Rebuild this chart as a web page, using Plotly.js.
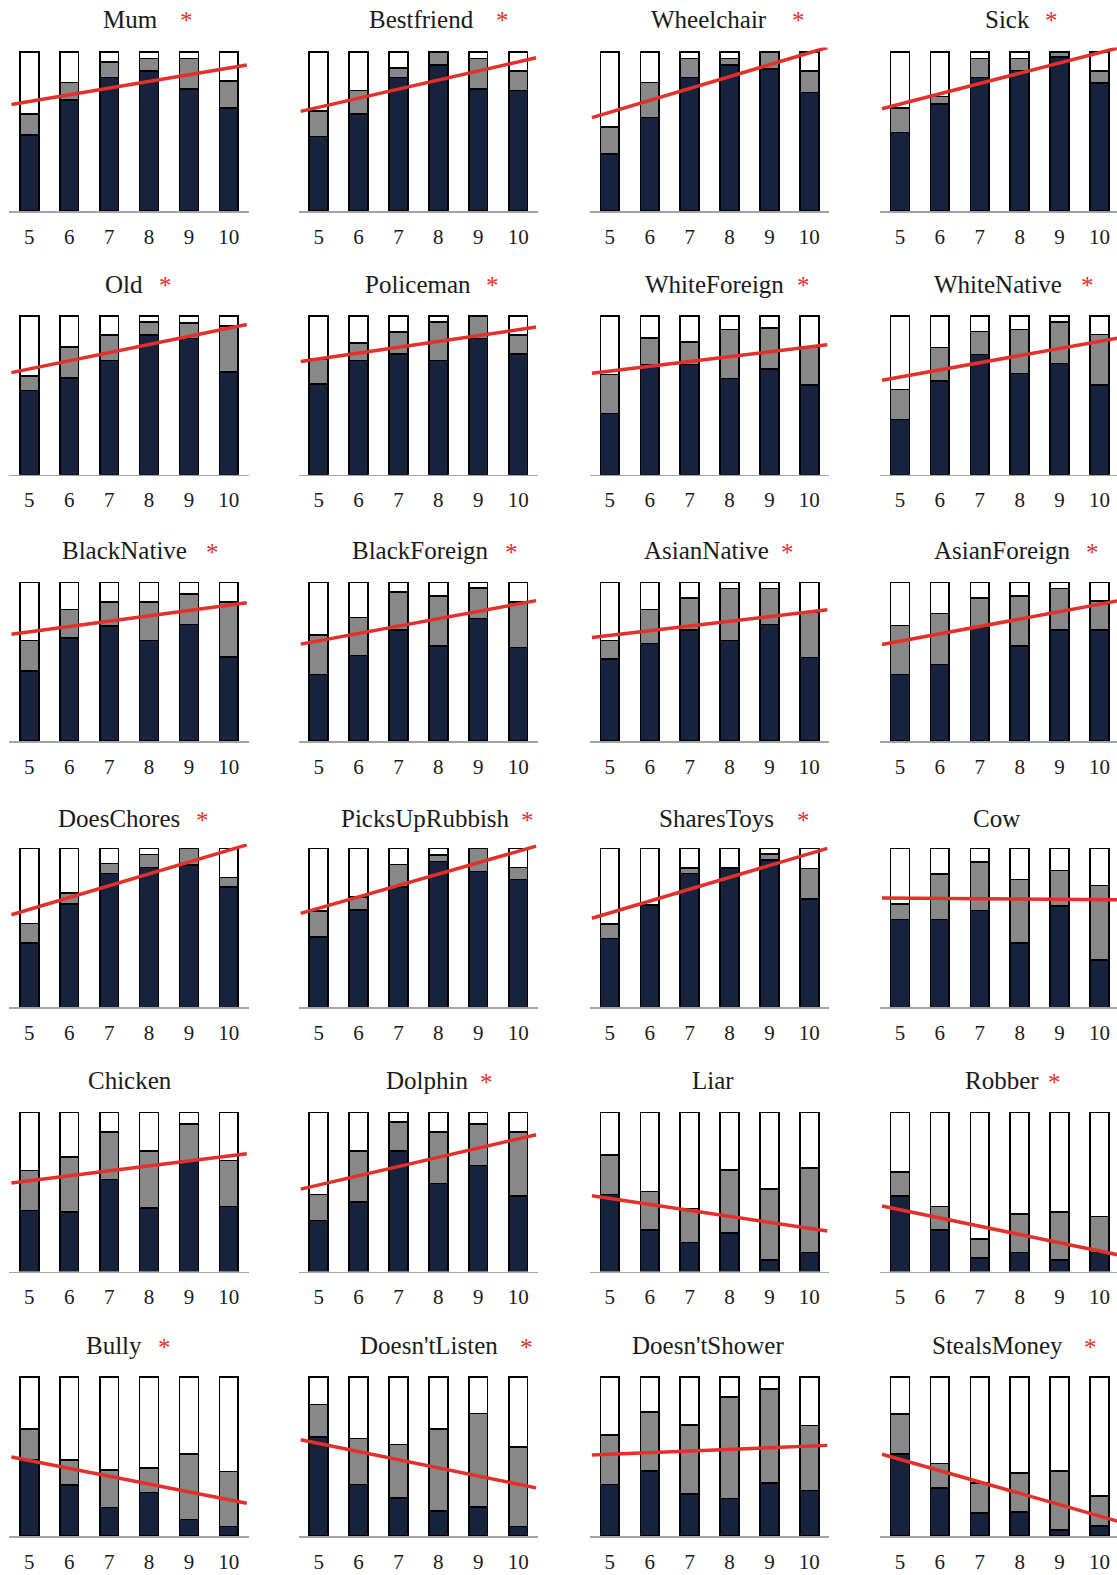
<!DOCTYPE html>
<html>
<head>
<meta charset="utf-8">
<script src="https://cdn.plot.ly/plotly-3.0.1.min.js"></script>
<style>html,body{margin:0;padding:0;background:#fff;}#chart{width:1117px;height:1575px;}</style>
</head>
<body>
<div id="chart"></div>
<script>
// ---------- DATA ----------
const ages = [5, 6, 7, 8, 9, 10];
const tickLabels = ["5", "6", "7", "8", "9", "10"];
const categories = ["Mum", "Bestfriend", "Wheelchair", "Sick",
  "Old", "Policeman", "WhiteForeign", "WhiteNative",
  "BlackNative", "BlackForeign", "AsianNative", "AsianForeign",
  "DoesChores", "PicksUpRubbish", "SharesToys", "Cow",
  "Chicken", "Dolphin", "Liar", "Robber",
  "Bully", "Doesn'tListen", "Doesn'tShower", "StealsMoney"];
const significant = [true, true, true, true,
  true, true, true, true,
  true, true, true, true,
  true, true, true, false,
  false, true, false, true,
  true, true, false, true];
// share of children in the darkest (navy) category, per age
const navyShare = [
  [.48, .70, .84, .88, .77, .65],
  [.47, .61, .84, .92, .77, .76],
  [.36, .59, .84, .92, .895, .746],
  [.495, .675, .84, .885, .97, .807],
  [.53, .61, .72, .88, .857, .647],
  [.57, .72, .76, .72, .857, .76],
  [.385, .695, .695, .605, .664, .563],
  [.347, .59, .758, .637, .70, .563],
  [.443, .65, .725, .636, .735, .53],
  [.42, .54, .70, .60, .773, .59],
  [.517, .616, .70, .636, .735, .527],
  [.42, .483, .72, .60, .70, .70],
  [.406, .653, .844, .88, .895, .758],
  [.444, .613, .758, .918, .855, .806],
  [.433, .643, .842, .874, .93, .683],
  [.553, .553, .611, .405, .637, .30],
  [.385, .375, .579, .40, .695, .41],
  [.322, .436, .758, .554, .667, .474],
  [.484, .263, .183, .242, .074, .12],
  [.474, .263, .084, .12, .074, .12],
  [.479, .321, .179, .275, .105, .059],
  [.625, .325, .241, .157, .182, .059],
  [.325, .409, .266, .237, .335, .287],
  [.518, .304, .143, .153, .036, .063]
];
// share in the middle (gray) category, per age
const grayShare = [
  [.13, .11, .10, .08, .19, .17],
  [.16, .15, .06, .08, .19, .12],
  [.17, .22, .12, .04, .105, .134],
  [.155, .045, .12, .075, .03, .073],
  [.09, .195, .16, .08, .10, .29],
  [.16, .11, .14, .24, .143, .12],
  [.245, .165, .14, .31, .26, .24],
  [.19, .21, .145, .277, .26, .32],
  [.193, .18, .153, .242, .191, .348],
  [.248, .24, .24, .316, .193, .288],
  [.119, .214, .203, .326, .227, .288],
  [.31, .322, .183, .316, .262, .182],
  [.122, .069, .061, .082, .105, .059],
  [.162, .084, .143, .042, .145, .074],
  [.092, .005, .036, .004, .036, .191],
  [.098, .287, .303, .40, .224, .467],
  [.251, .347, .301, .358, .235, .289],
  [.162, .322, .183, .326, .263, .406],
  [.249, .242, .213, .396, .446, .533],
  [.151, .147, .12, .242, .299, .227],
  [.193, .158, .237, .155, .41, .346],
  [.203, .289, .336, .518, .589, .503],
  [.31, .373, .432, .639, .592, .409],
  [.251, .153, .192, .245, .373, .189]
];
// trend line value at age 5 and at age 10
const trendAt5 = [.69, .653, .622, .673, .666, .729, .652, .615, .689, .633, .667, .63,
  .617, .624, .595, .688, .571, .545, .46, .389, .475, .583, .514, .483];
const trendAt10 = [.90, .939, .996, .997, .923, .913, .804, .84, .857, .865, .815, .863,
  .99, .983, .968, .678, .727, .835, .272, .129, .228, .326, .566, .126];

// ---------- LAYOUT CONSTANTS ----------
const W = 1117, H = 1575;
const colLeft = [9.4, 298.7, 589.9, 880];      // px where x = 4.5
const unitPx = 39.9;                            // px per age step
const rowBottom = [211, 474.7, 741.3, 1007.4, 1271.5, 1536];
const barPx = 158.8;
const yTop = 1.03;
const titleY = [19, 284, 550, 818, 1080, 1345];
const titleX = [130.4, 421.4, 709.1, 1007, 124.1, 418.4, 714.7, 998, 124.6, 420.9, 706.1, 1002.2,
  118.8, 425.2, 716.8, 996.3, 130.4, 426.8, 712.9, 1002.2, 113.8, 428.6, 708.1, 997.7];
const starX = [186.4, 502.9, 798.8, 1051.6, 165.4, 492.1, 803.4, 1087.4, 212.1, 511.4, 787.4, 1092,
  202.5, 527.9, 803.4, 0, 0, 486.4, 0, 1054.1, 164.3, 526.1, 0, 1090.9];

const NAVY = '#17223f', GRAY = '#888888', RED = '#e3302a';
const FONT = 'Liberation Serif, Times New Roman, serif';

const traces = [];
const layout = {
  width: W, height: H,
  margin: {l: 0, r: 0, t: 0, b: 0},
  paper_bgcolor: '#ffffff', plot_bgcolor: 'rgba(0,0,0,0)',
  barmode: 'stack', bargap: 0, showlegend: false,
  font: {family: FONT, color: '#1a1a1a'},
  annotations: []
};

categories.forEach((name, i) => {
  const row = Math.floor(i / 4), col = i % 4;
  const k = i + 1;
  const xa = 'x' + (k === 1 ? '' : k), ya = 'y' + (k === 1 ? '' : k);
  const white = ages.map((_, j) => Math.max(0, 1 - navyShare[i][j] - grayShare[i][j]));
  const barLine = {color: '#000000', width: 1.6};
  const w = 0.47;
  traces.push({type: 'bar', x: ages, y: navyShare[i], xaxis: xa, yaxis: ya, width: w,
    marker: {color: NAVY, line: barLine}, hoverinfo: 'skip'});
  traces.push({type: 'bar', x: ages, y: grayShare[i], xaxis: xa, yaxis: ya, width: w,
    marker: {color: GRAY, line: barLine}, hoverinfo: 'skip'});
  traces.push({type: 'bar', x: ages, y: white, xaxis: xa, yaxis: ya, width: w,
    marker: {color: '#ffffff', line: barLine}, hoverinfo: 'skip'});
  const slope = (trendAt10[i] - trendAt5[i]) / 5;
  const lx = [4.55, 10.45];
  traces.push({type: 'scatter', mode: 'lines', x: lx, y: lx.map(v => trendAt5[i] + (v - 5) * slope),
    xaxis: xa, yaxis: ya, line: {color: RED, width: 3.5}, hoverinfo: 'skip'});

  const x0 = colLeft[col];
  const x1 = Math.min(W, x0 + 6 * unitPx);
  const xEnd = 4.5 + (x1 - x0) / unitPx;
  const yb = rowBottom[row], yt = yb - barPx * yTop;
  layout['xaxis' + (k === 1 ? '' : k)] = {
    domain: [x0 / W, x1 / W], range: [4.5, xEnd], anchor: ya,
    showgrid: false, zeroline: false, showline: true, linecolor: '#a3a3a3', linewidth: 1.5,
    ticks: '', tickvals: ages, ticktext: tickLabels, ticklabelstandoff: 6,
    tickfont: {family: FONT, size: 21, color: '#1a1a1a'}, fixedrange: true
  };
  layout['yaxis' + (k === 1 ? '' : k)] = {
    domain: [1 - yb / H, 1 - yt / H], range: [0, yTop], anchor: xa,
    showgrid: false, zeroline: false, showline: false, showticklabels: false, ticks: '', fixedrange: true
  };
  layout.annotations.push({xref: 'paper', yref: 'paper', x: titleX[i] / W, y: 1 - titleY[row] / H,
    xanchor: 'center', yanchor: 'middle', showarrow: false, text: name,
    font: {family: FONT, size: 25, color: '#1a1a1a'}});
  if (significant[i]) {
    layout.annotations.push({xref: 'paper', yref: 'paper', x: starX[i] / W, y: 1 - (titleY[row] + 2) / H,
      xanchor: 'center', yanchor: 'middle', showarrow: false, text: '*',
      font: {family: FONT, size: 25, color: RED}});
  }
});

Plotly.newPlot('chart', traces, layout, {staticPlot: true, displayModeBar: false});
</script>
</body>
</html>
